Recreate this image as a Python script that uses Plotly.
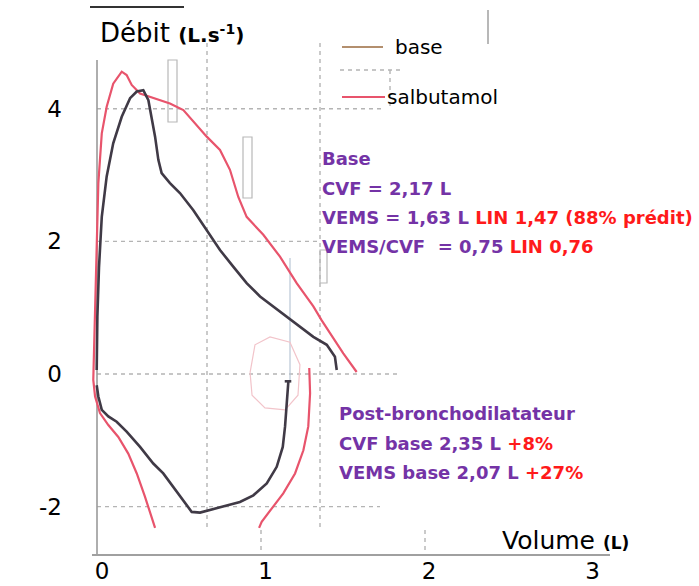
import plotly.graph_objects as go

# ---------------- data (volume L, flow L/s) ----------------
base_exp_vol = [-0.014, -0.010, 0.000, 0.017, 0.047, 0.087, 0.139, 0.190, 0.231, 0.271, 0.302, 0.322,
                0.343, 0.363, 0.383, 0.434, 0.495, 0.577, 0.659, 0.740, 0.821, 0.903, 0.985, 1.066,
                1.148, 1.229, 1.311, 1.393, 1.443, 1.454]
base_exp_flow = [0.06, 0.86, 1.61, 2.37, 2.98, 3.48, 3.88, 4.16, 4.26, 4.28, 4.13, 3.88,
                 3.58, 3.23, 3.03, 2.88, 2.73, 2.47, 2.17, 1.87, 1.62, 1.37, 1.17, 1.02,
                 0.86, 0.71, 0.56, 0.44, 0.26, 0.06]

base_insp_vol = [-0.014, -0.004, 0.017, 0.057, 0.108, 0.169, 0.251, 0.332, 0.393, 0.454, 0.516, 0.567,
                 0.618, 0.699, 0.781, 0.862, 0.944, 1.026, 1.087, 1.124, 1.138, 1.148, 1.158, None, 1.136, 1.176]
base_insp_flow = [-0.17, -0.34, -0.54, -0.64, -0.72, -0.87, -1.10, -1.35, -1.50, -1.70, -1.90, -2.08,
                  -2.09, -2.04, -1.98, -1.93, -1.83, -1.65, -1.40, -1.10, -0.79, -0.44, -0.12, None, -0.11, -0.11]

salb_vol = [0.343, 0.332, 0.281, 0.231, 0.179, 0.118, 0.057, 0.006, -0.024, -0.035,
            -0.024, -0.014, -0.004, 0.017, 0.047, 0.087, 0.139, 0.169, 0.200, 0.251, 0.332, 0.434,
            0.516, 0.577, 0.659, 0.740, 0.801, 0.852, 0.903, 1.005, 1.107, 1.209, 1.311, 1.362,
            1.413, 1.494, 1.576]
salb_flow = [-2.32, -2.23, -1.85, -1.50, -1.20, -0.95, -0.77, -0.59, -0.34, -0.09,
             0.86, 1.87, 2.88, 3.63, 4.03, 4.38, 4.56, 4.51, 4.36, 4.23, 4.16, 4.08,
             3.98, 3.81, 3.58, 3.38, 3.08, 2.67, 2.37, 2.10, 1.77, 1.37, 1.02, 0.81,
             0.61, 0.31, 0.03]

salb_insp_vol = [1.286, 1.291, 1.280, 1.250, 1.199, 1.127, 1.056, 0.995, 0.979]
salb_insp_flow = [0.09, -0.29, -0.79, -1.15, -1.50, -1.80, -2.03, -2.23, -2.32]

tidal_vol = [0.924, 0.954, 1.046, 1.168, 1.229, 1.217, 1.138, 1.015, 0.936, 0.924]
tidal_flow = [0.02, 0.44, 0.56, 0.48, 0.14, -0.32, -0.54, -0.51, -0.32, 0.02]

x_ticks = [0, 1, 2, 3]
x_tick_labels = ["0", "1", "2", "3"]
y_ticks = [-2, 0, 2, 4]
y_tick_labels = ["-2", "0", "2", "4"]

# ---------------- geometry helpers (pixel -> data) ----------------
X0, XS = 99.0, 163.5
Y0, YS = 374.0, 66.3
def vx(px):
    return (px - X0) / XS
def vy(py):
    return (Y0 - py) / YS

L, R, T, B = 60, 89, 0, 31
W, H = 699, 586
x_range = [vx(L), vx(W - R)]
y_range = [vy(H - B), vy(T)]

RED = "#e8546c"
BLACK = "#403a46"
GRID = "#b4b4b4"
PURPLE = "#7433a6"
TXTRED = "#ff1a1a"
SANS = "DejaVu Sans"

fig = go.Figure()

fig.add_trace(go.Scatter(x=tidal_vol, y=tidal_flow, mode="lines",
                         line=dict(color="#f2c4ca", width=1.2), hoverinfo="skip"))
fig.add_trace(go.Scatter(x=salb_vol, y=salb_flow, mode="lines",
                         line=dict(color=RED, width=2.2), name="salbutamol"))
fig.add_trace(go.Scatter(x=salb_insp_vol, y=salb_insp_flow, mode="lines",
                         line=dict(color=RED, width=2.2), showlegend=False))
fig.add_trace(go.Scatter(x=base_exp_vol, y=base_exp_flow, mode="lines",
                         line=dict(color=BLACK, width=2.6), name="base"))
fig.add_trace(go.Scatter(x=base_insp_vol, y=base_insp_flow, mode="lines",
                         line=dict(color=BLACK, width=2.6), showlegend=False, connectgaps=False))

shapes = []
def dline(x0, y0, x1, y1, color=GRID, width=1.4, dash="4px,4px", layer="below"):
    shapes.append(dict(type="line", xref="x", yref="y", x0=x0, y0=y0, x1=x1, y1=y1,
                       line=dict(color=color, width=width, dash=dash), layer=layer))

# dashed grid
dline(vx(97), 4, vx(385), 4)
dline(vx(97), 2, vx(320), 2)
dline(vx(97), 0, vx(400), 0)
dline(vx(97), -2, vx(380), -2)
dline(vx(207), vy(43), vx(207), vy(530))
dline(vx(320), vy(43), vx(320), vy(530))
dline(vx(261), vy(530), vx(261), vy(555))
dline(vx(425), vy(530), vx(425), vy(555))
dline(vx(340), vy(70), vx(400), vy(70))
dline(vx(390), vy(70), vx(390), vy(108))

# left axis line
dline(vx(97), vy(60), vx(97), vy(555), color="#9a9a9a", width=1.6, dash="solid")
# faint markers (scan artefacts)
for (a, b, c, d) in [(168, 60, 177, 122), (243, 137, 252, 198), (320, 250, 327, 283)]:
    shapes.append(dict(type="rect", xref="x", yref="y", x0=vx(a), y0=vy(b), x1=vx(c), y1=vy(d),
                       line=dict(color="#b8b8b8", width=1.2), layer="below"))
dline(vx(290), vy(258), vx(290), vy(380), color="#b9c6d6", width=1.2, dash="solid")
dline(vx(488), vy(10), vx(488), vy(44), color="#9a9a9a", width=1.4, dash="solid")
# top short rule
dline(vx(90), vy(7), vx(184), vy(7), color="#333333", width=2, dash="solid")
# legend lines
dline(vx(342), vy(47), vx(383), vy(47), color="#b38f6e", width=2.2, dash="solid", layer="above")
dline(vx(342), vy(97), vx(385), vy(97), color=RED, width=2.2, dash="solid", layer="above")
# bottom axis line
shapes.append(dict(type="line", xref="paper", yref="paper", x0=(92 - L) / (W - L - R), x1=1.0,
                   y0=0, y1=0, line=dict(color="#a0a0a0", width=2)))

ann = []
def text(px, py, s, size, color="black", family=SANS, xanchor="left"):
    ann.append(dict(x=vx(px), y=vy(py), xref="x", yref="y", text=s, showarrow=False,
                    xanchor=xanchor, yanchor="middle", font=dict(size=size, color=color, family=family)))

text(98, 33, "Débit <b><span style='font-size:20px'>(L.s<sup>-1</sup>)</span></b>", 26)
text(500, 540, "Volume <b><span style='font-size:17px'>(L)</span></b>", 25)
text(393, 47, "base", 20)
text(385, 97, "salbutamol", 20)

fs = 18
def red(s):
    return "<span style='color:%s'>%s</span>" % (TXTRED, s)
text(320, 158, "<b>Base</b>", fs, PURPLE)
text(320, 188, "<b>CVF = 2,17 L</b>", fs, PURPLE)
text(320, 217, "<b>VEMS = 1,63 L " + red("LIN 1,47 (88% prédit)") + "</b>", fs, PURPLE)
text(320, 246, "<b>VEMS/CVF  = 0,75 " + red("LIN 0,76") + "</b>", fs, PURPLE)
text(337, 413, "<b>Post-bronchodilatateur</b>", fs, PURPLE)
text(337, 443, "<b>CVF base 2,35 L " + red("+8%") + "</b>", fs, PURPLE)
text(337, 472, "<b>VEMS base 2,07 L " + red("+27%") + "</b>", fs, PURPLE)

fig.update_layout(
    width=W, height=H, margin=dict(l=L, r=R, t=T, b=B, autoexpand=False),
    paper_bgcolor="white", plot_bgcolor="white", showlegend=False,
    shapes=shapes, annotations=ann,
    xaxis=dict(range=x_range, tickvals=x_ticks, ticktext=x_tick_labels, showgrid=False,
               zeroline=False, showline=False, ticks="", ticklabelshift=3, ticklabelstandoff=0,
               tickfont=dict(size=23, color="black", family=SANS), fixedrange=True),
    yaxis=dict(range=y_range, tickvals=y_ticks, ticktext=y_tick_labels, showgrid=False,
               zeroline=False, showline=False, ticks="", ticklabelstandoff=-3,
               tickfont=dict(size=23, color="black", family=SANS), fixedrange=True),
)

fig.write_html("out.html", config={"displayModeBar": False},
               post_script="document.body.style.margin='0px';document.body.style.overflow='hidden';")
